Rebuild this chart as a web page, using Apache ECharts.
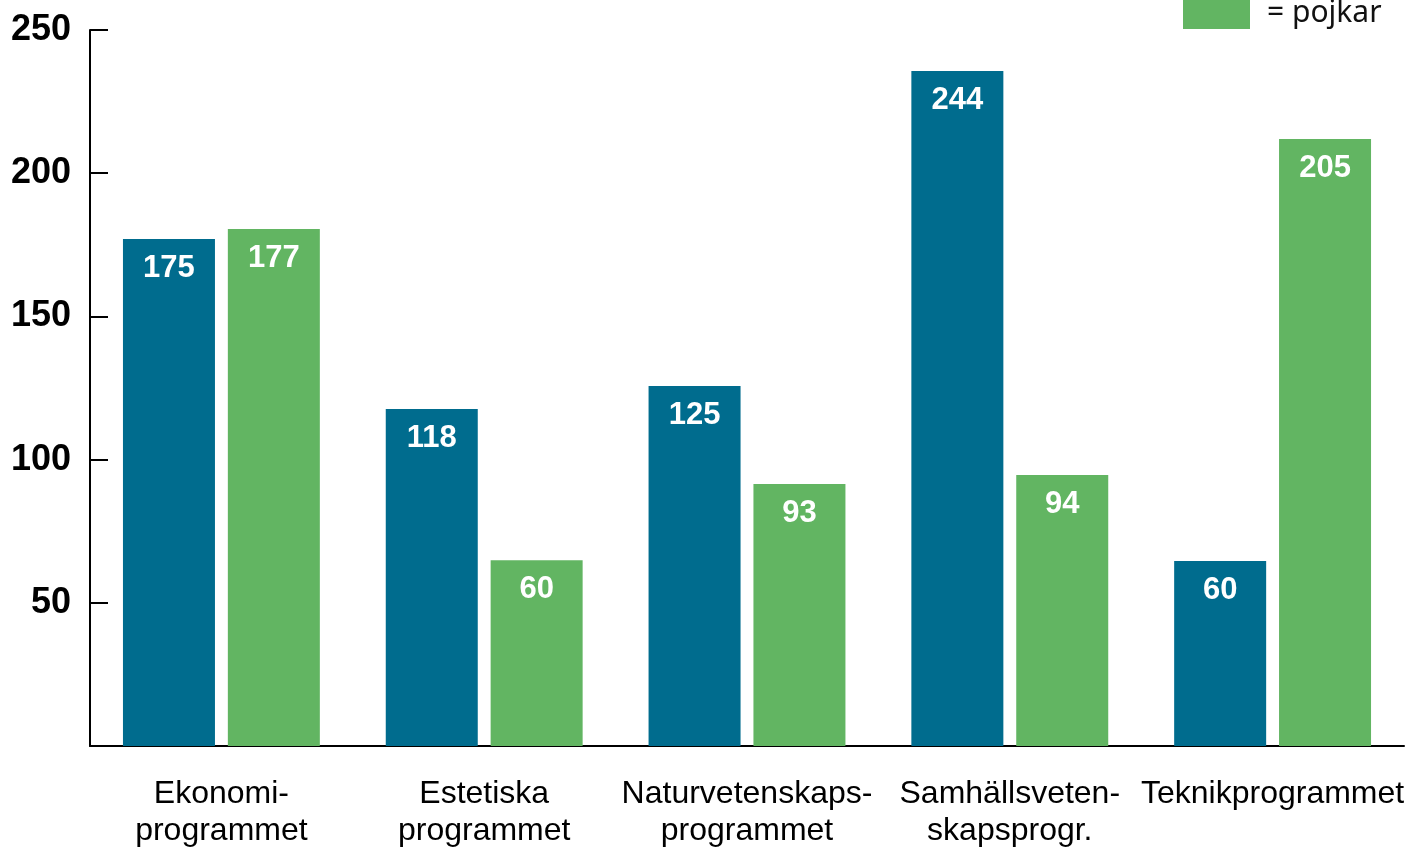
<!DOCTYPE html>
<html>
<head>
<meta charset="utf-8">
<script src="https://cdn.jsdelivr.net/npm/echarts@6/dist/echarts.min.js"></script>
<style>
  html, body { margin: 0; padding: 0; background: #fff; }
  #main { width: 1410px; height: 847px; }
</style>
</head>
<body>
<div id="main"></div>
<script>
// program names (x axis)
var programs = ['Ekonomi-\nprogrammet', 'Estetiska\nprogrammet', 'Naturvetenskaps-\nprogrammet', 'Samhällsveten-\nskapsprogr.', 'Teknikprogrammet'];
// bar heights as drawn in the picture
var flickorBars = [177, 117.7, 125.7, 235.7, 64.6];
var pojkarBars = [180.5, 64.9, 91.5, 94.6, 211.9];
// numbers printed on the bars
var flickorLabels = [175, 118, 125, 244, 60];
var pojkarLabels = [177, 60, 93, 94, 205];
// y axis
var yTicks = [50, 100, 150, 200, 250];

var chart = echarts.init(document.getElementById('main'));

function barLabel(texts) {
  return {
    show: true,
    position: 'insideTop',
    distance: 14,
    color: '#fff',
    fontSize: 31,
    fontWeight: 'bold',
    fontFamily: 'Liberation Sans, Arial, sans-serif',
    formatter: function (p) { return texts[p.dataIndex]; }
  };
}

var option = {
  animation: false,
  textStyle: { fontFamily: 'Liberation Sans, Arial, sans-serif' },
  grid: { left: 90, right: 6, top: 30, bottom: 101, outerBoundsMode: 'none', containLabel: false },
  legend: {
    data: ['pojkar'],
    left: 1178,
    top: -8,
    itemWidth: 67,
    itemHeight: 32,
    icon: 'rect',
    formatter: '= {name}',
    textStyle: { fontSize: 30, color: '#111', padding: [12, 0, 0, 12], fontFamily: 'Noto Sans, sans-serif' }
  },
  xAxis: {
    type: 'category',
    data: programs,
    axisLine: { lineStyle: { color: '#000', width: 2 } },
    axisTick: { show: false },
    axisLabel: { color: '#000', fontSize: 32, lineHeight: 37, margin: 30, interval: 0 }
  },
  yAxis: {
    type: 'value',
    min: 0,
    max: yTicks[yTicks.length - 1],
    interval: yTicks[1] - yTicks[0],
    splitLine: { show: false },
    axisLine: { show: true, lineStyle: { color: '#000', width: 2 } },
    axisTick: { show: true, inside: true, length: 18, lineStyle: { color: '#000', width: 2 } },
    axisLabel: {
      color: '#000', fontSize: 36, fontWeight: 'bold', margin: 19,
      showMinLabel: false
    }
  },
  series: [
    {
      name: 'flickor',
      type: 'bar',
      data: flickorBars,
      barWidth: 92,
      barGap: '14%',
      itemStyle: { color: '#006C8E' },
      label: barLabel(flickorLabels)
    },
    {
      name: 'pojkar',
      type: 'bar',
      data: pojkarBars,
      barWidth: 92,
      barGap: '14%',
      itemStyle: { color: '#62B562' },
      label: barLabel(pojkarLabels)
    }
  ]
};
chart.setOption(option);
</script>
</body>
</html>
